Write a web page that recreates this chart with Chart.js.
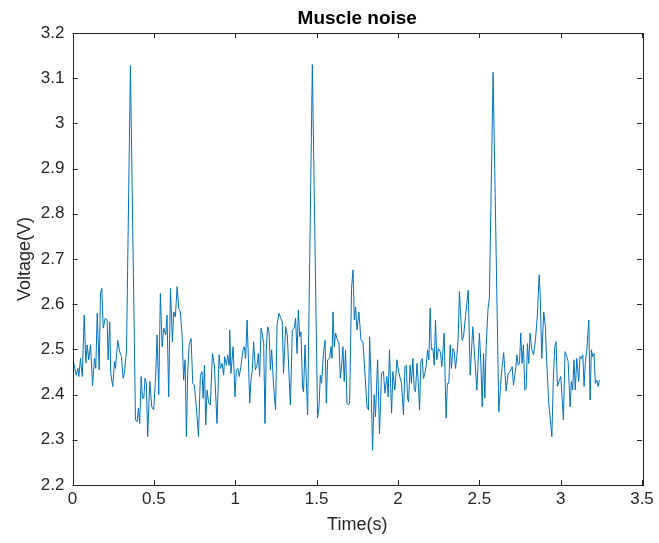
<!DOCTYPE html>
<html lang="en">

<head>
    <meta charset="UTF-8">
    <title>Muscle noise</title>
    <script src="https://cdn.jsdelivr.net/npm/chart.js"></script>
    <style>
        body { margin: 0; background: #fff; }
    </style>
</head>

<body>
    <canvas id="noiseChart" width="659" height="543"></canvas>

    <script>
        // sample times (s) and voltages (V)
        const timeS = [
            0.000, 0.008, 0.023, 0.033, 0.039, 0.049, 0.060, 0.072, 0.082, 0.090, 0.100, 0.111, 0.123, 0.135, 0.143,
            0.152, 0.164, 0.172, 0.180, 0.189, 0.201, 0.213, 0.219, 0.229, 0.235, 0.247, 0.258, 0.264, 0.278, 0.290,
            0.301, 0.311, 0.319, 0.332, 0.356, 0.387, 0.397, 0.405, 0.413, 0.422, 0.430, 0.438, 0.446, 0.454, 0.462,
            0.475, 0.487, 0.499, 0.511, 0.520, 0.530, 0.540, 0.551, 0.561, 0.573, 0.581, 0.591, 0.602, 0.614, 0.622,
            0.632, 0.643, 0.653, 0.663, 0.674, 0.683, 0.692, 0.700, 0.708, 0.717, 0.729, 0.739, 0.749, 0.761, 0.774,
            0.786, 0.796, 0.803, 0.811, 0.819, 0.827, 0.837, 0.847, 0.860, 0.872, 0.888, 0.901, 0.909, 0.919, 0.929,
            0.935, 0.946, 0.954, 0.962, 0.966, 0.974, 0.987, 0.999, 1.007, 1.017, 1.025, 1.036, 1.048, 1.056, 1.064,
            1.073, 1.081, 1.089, 1.097, 1.105, 1.113, 1.124, 1.134, 1.142, 1.150, 1.159, 1.167, 1.175, 1.183, 1.191,
            1.199, 1.208, 1.216, 1.224, 1.236, 1.248, 1.257, 1.269, 1.277, 1.289, 1.297, 1.310, 1.320, 1.339, 1.351,
            1.363, 1.371, 1.380, 1.388, 1.396, 1.404, 1.414, 1.420, 1.429, 1.445, 1.474, 1.506, 1.515, 1.523, 1.531,
            1.543, 1.552, 1.560, 1.568, 1.580, 1.589, 1.595, 1.601, 1.609, 1.617, 1.625, 1.638, 1.646, 1.654, 1.662,
            1.670, 1.678, 1.687, 1.695, 1.703, 1.715, 1.724, 1.732, 1.740, 1.748, 1.760, 1.773, 1.785, 1.797, 1.810,
            1.819, 1.826, 1.834, 1.844, 1.854, 1.862, 1.875, 1.887, 1.899, 1.911, 1.920, 1.932, 1.940, 1.948, 1.961,
            1.969, 1.981, 1.994, 2.006, 2.022, 2.034, 2.043, 2.051, 2.059, 2.065, 2.075, 2.083, 2.092, 2.100, 2.108,
            2.117, 2.125, 2.133, 2.141, 2.149, 2.157, 2.166, 2.174, 2.182, 2.190, 2.198, 2.206, 2.215, 2.223, 2.231,
            2.239, 2.249, 2.260, 2.270, 2.284, 2.296, 2.304, 2.313, 2.321, 2.329, 2.338, 2.346, 2.354, 2.362, 2.370,
            2.378, 2.387, 2.395, 2.403, 2.415, 2.432, 2.444, 2.460, 2.473, 2.485, 2.501, 2.510, 2.518, 2.526, 2.534,
            2.542, 2.554, 2.562, 2.585, 2.620, 2.637, 2.650, 2.665, 2.677, 2.689, 2.702, 2.710, 2.722, 2.731, 2.739,
            2.747, 2.755, 2.763, 2.771, 2.780, 2.788, 2.796, 2.804, 2.812, 2.823, 2.833, 2.845, 2.857, 2.868, 2.874,
            2.884, 2.896, 2.906, 2.915, 2.927, 2.935, 2.946, 2.955, 2.964, 2.972, 2.980, 2.989, 3.001, 3.009, 3.017,
            3.027, 3.038, 3.046, 3.058, 3.066, 3.074, 3.082, 3.090, 3.099, 3.111, 3.119, 3.127, 3.136, 3.144, 3.152,
            3.161, 3.173, 3.181, 3.189, 3.197, 3.205, 3.213, 3.222, 3.230, 3.238
        ];
        const voltageV = [
            2.470, 2.470, 2.443, 2.458, 2.440, 2.480, 2.440, 2.576, 2.470, 2.510, 2.477, 2.510, 2.420, 2.480, 2.458,
            2.580, 2.455, 2.624, 2.635, 2.547, 2.569, 2.565, 2.477, 2.561, 2.447, 2.418, 2.473, 2.458, 2.520, 2.495,
            2.484, 2.436, 2.447, 2.499, 3.128, 2.344, 2.340, 2.370, 2.336, 2.440, 2.392, 2.392, 2.436, 2.425, 2.307,
            2.429, 2.373, 2.366, 2.440, 2.532, 2.400, 2.624, 2.506, 2.547, 2.532, 2.576, 2.395, 2.635, 2.517, 2.583,
            2.572, 2.639, 2.591, 2.583, 2.528, 2.432, 2.477, 2.307, 2.447, 2.510, 2.524, 2.425, 2.421, 2.373, 2.307,
            2.443, 2.451, 2.392, 2.465, 2.333, 2.410, 2.381, 2.377, 2.491, 2.465, 2.336, 2.488, 2.458, 2.469, 2.443,
            2.484, 2.465, 2.488, 2.465, 2.543, 2.447, 2.506, 2.395, 2.455, 2.458, 2.440, 2.465, 2.499, 2.506, 2.480,
            2.565, 2.480, 2.381, 2.432, 2.455, 2.517, 2.455, 2.465, 2.491, 2.440, 2.547, 2.532, 2.513, 2.336, 2.499,
            2.550, 2.539, 2.455, 2.499, 2.418, 2.366, 2.554, 2.580, 2.572, 2.561, 2.447, 2.550, 2.532, 2.377, 2.543,
            2.547, 2.569, 2.491, 2.587, 2.528, 2.539, 2.414, 2.406, 2.510, 2.355, 3.130, 2.348, 2.373, 2.443, 2.425,
            2.495, 2.520, 2.381, 2.477, 2.480, 2.506, 2.480, 2.583, 2.506, 2.536, 2.524, 2.513, 2.436, 2.465, 2.506,
            2.429, 2.499, 2.381, 2.377, 2.381, 2.635, 2.676, 2.565, 2.594, 2.543, 2.583, 2.520, 2.517, 2.447, 2.373,
            2.366, 2.528, 2.440, 2.277, 2.400, 2.351, 2.477, 2.314, 2.447, 2.451, 2.403, 2.440, 2.395, 2.499, 2.359,
            2.451, 2.410, 2.477, 2.448, 2.425, 2.355, 2.462, 2.465, 2.392, 2.384, 2.465, 2.425, 2.480, 2.414, 2.406,
            2.469, 2.429, 2.366, 2.473, 2.480, 2.436, 2.447, 2.465, 2.499, 2.477, 2.591, 2.499, 2.502, 2.465, 2.565,
            2.477, 2.502, 2.495, 2.462, 2.536, 2.348, 2.425, 2.425, 2.510, 2.458, 2.502, 2.495, 2.458, 2.484, 2.524,
            2.628, 2.565, 2.520, 2.528, 2.572, 2.631, 2.443, 2.550, 2.477, 2.410, 2.536, 2.465, 2.373, 2.491, 2.392,
            2.506, 2.591, 2.613, 3.113, 2.362, 2.450, 2.493, 2.408, 2.447, 2.451, 2.462, 2.421, 2.451, 2.488, 2.465,
            2.469, 2.536, 2.469, 2.510, 2.410, 2.414, 2.513, 2.469, 2.536, 2.499, 2.488, 2.520, 2.576, 2.665, 2.624,
            2.480, 2.583, 2.550, 2.469, 2.381, 2.351, 2.307, 2.432, 2.506, 2.517, 2.418, 2.429, 2.440, 2.392, 2.344,
            2.495, 2.484, 2.473, 2.373, 2.429, 2.410, 2.477, 2.410, 2.480, 2.429, 2.484, 2.480, 2.488, 2.418, 2.473,
            2.499, 2.565, 2.388, 2.499, 2.484, 2.491, 2.425, 2.432, 2.418, 2.432
        ];

        const xTicks = [0, 0.5, 1, 1.5, 2, 2.5, 3, 3.5];
        const yTicks = [2.2, 2.3, 2.4, 2.5, 2.6, 2.7, 2.8, 2.9, 3, 3.1, 3.2];
        const chartTitle = 'Muscle noise';

        const fontFamily = '"Liberation Sans", Arial, Helvetica, sans-serif';
        const axisColor = '#262626';

        const points = timeS.map((t, i) => ({ x: t, y: voltageV[i] }));

        // matlab style box with ticks pointing inwards + title centred over the axes
        const boxPlugin = {
            id: 'box',
            afterDatasetsDraw(chart) {
                const { ctx, chartArea: a, scales } = chart;
                const len = 5;
                ctx.save();
                ctx.strokeStyle = axisColor;
                ctx.lineWidth = 1;
                ctx.beginPath();
                xTicks.forEach(v => {
                    const px = Math.round(scales.x.getPixelForValue(v)) + 0.5;
                    ctx.moveTo(px, a.bottom); ctx.lineTo(px, a.bottom - len);
                    ctx.moveTo(px, a.top); ctx.lineTo(px, a.top + len);
                });
                yTicks.forEach(v => {
                    const py = Math.round(scales.y.getPixelForValue(v)) + 0.5;
                    ctx.moveTo(a.left, py); ctx.lineTo(a.left + len, py);
                    ctx.moveTo(a.right, py); ctx.lineTo(a.right - len, py);
                });
                ctx.stroke();
                ctx.strokeRect(Math.round(a.left) + 0.5, Math.round(a.top) + 0.5,
                    Math.round(a.right - a.left), Math.round(a.bottom - a.top));

                ctx.fillStyle = '#000';
                ctx.font = 'bold 19px ' + fontFamily;
                ctx.textAlign = 'center';
                ctx.textBaseline = 'middle';
                ctx.fillText(chartTitle, (a.left + a.right) / 2, 19);
                ctx.restore();
            }
        };

        const fmt = v => String(Number(v.toFixed(2)));

        const ctx = document.getElementById('noiseChart').getContext('2d');
        new Chart(ctx, {
            type: 'scatter',
            data: {
                datasets: [{
                    data: points,
                    showLine: true,
                    borderColor: '#0072BD',
                    backgroundColor: '#0072BD',
                    borderWidth: 1,
                    pointRadius: 0,
                    tension: 0
                }]
            },
            options: {
                responsive: false,
                animation: false,
                layout: { padding: { left: 0, right: 17, top: 33, bottom: 0 } },
                plugins: {
                    legend: { display: false },
                    tooltip: { enabled: false },
                    title: { display: false }
                },
                scales: {
                    x: {
                        type: 'linear',
                        min: 0,
                        max: 3.5,
                        grid: { display: false, drawTicks: false },
                        border: { display: false },
                        afterBuildTicks: s => { s.ticks = xTicks.map(v => ({ value: v })); },
                        afterFit: s => { s.height = 58; },
                        ticks: {
                            color: axisColor,
                            font: { family: fontFamily, size: 17 },
                            padding: 4,
                            maxRotation: 0,
                            callback: v => fmt(v)
                        },
                        title: {
                            display: true,
                            text: 'Time(s)',
                            color: axisColor,
                            font: { family: fontFamily, size: 18 },
                            padding: { top: 0, bottom: 7 }
                        }
                    },
                    y: {
                        type: 'linear',
                        min: 2.2,
                        max: 3.2,
                        grid: { display: false, drawTicks: false },
                        border: { display: false },
                        afterBuildTicks: s => { s.ticks = yTicks.map(v => ({ value: v })); },
                        afterFit: s => { s.width = 72.5; },
                        ticks: {
                            color: axisColor,
                            font: { family: fontFamily, size: 17 },
                            padding: 8,
                            callback: v => fmt(v)
                        },
                        title: {
                            display: true,
                            text: 'Voltage(V)',
                            color: axisColor,
                            font: { family: fontFamily, size: 18 },
                            padding: { top: 14, bottom: 0 }
                        }
                    }
                }
            },
            plugins: [boxPlugin]
        });
    </script>
</body>

</html>
